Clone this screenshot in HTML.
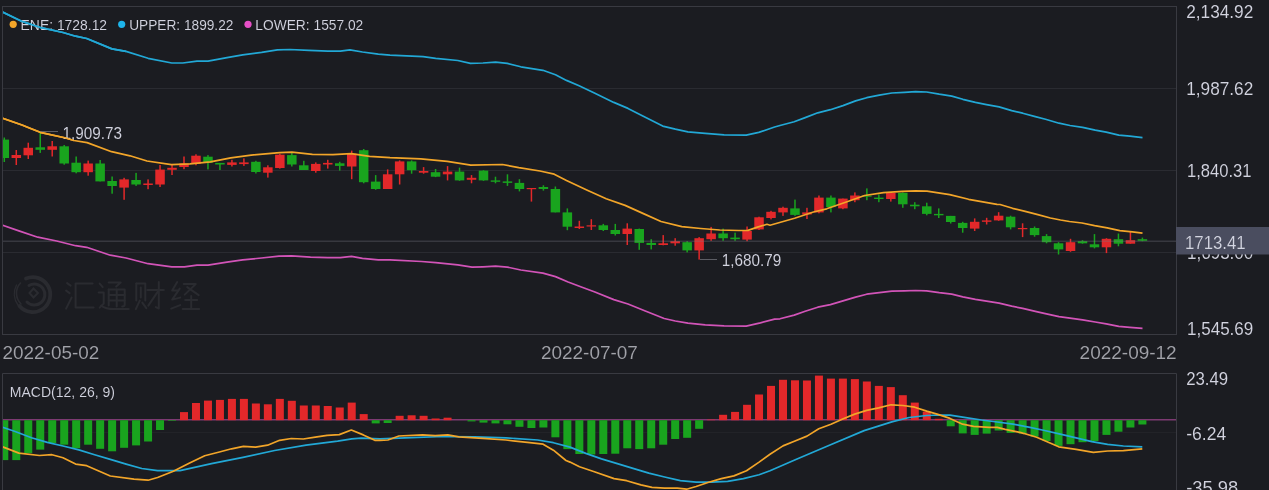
<!DOCTYPE html>
<html><head><meta charset="utf-8"><style>
html,body{margin:0;padding:0;background:#1b1c21;overflow:hidden;}
svg{display:block;}
text{font-family:"Liberation Sans",sans-serif;will-change:transform;}
</style></head><body>
<svg width="1269" height="490" viewBox="0 0 1269 490" font-family="Liberation Sans, sans-serif">
<rect width="1269" height="490" fill="#1b1c21"/>
<line x1="2" y1="88.5" x2="1176" y2="88.5" stroke="#2a2b31" stroke-width="1"/>
<line x1="2" y1="170.5" x2="1176" y2="170.5" stroke="#2a2b31" stroke-width="1"/>
<line x1="2" y1="252.5" x2="1176" y2="252.5" stroke="#2a2b31" stroke-width="1"/>
<line x1="2" y1="432.5" x2="1176" y2="432.5" stroke="#222328" stroke-width="1"/>
<rect x="2.5" y="6.5" width="1174" height="328" fill="none" stroke="#393a41" stroke-width="1"/>
<path d="M2.5 495 V373.5 H1176.5 V495" fill="none" stroke="#393a41" stroke-width="1"/>
<g fill="none" stroke="#2a2b30" stroke-linecap="round"><path d="M26 278.5 A17.5 17.5 0 1 1 19.5 306" stroke-width="3.8"/><path d="M20.5 283 A15 15 0 0 0 21 304" stroke-width="1.6"/><path d="M16.5 285 A19 19 0 0 0 18 305" stroke-width="1.4"/><path d="M29 285.5 A10.5 10.5 0 1 1 27 302" stroke-width="3"/><path d="M33.5 288.5 L38 293 L33.5 297.5 L29.5 293 Z" stroke-width="2"/></g><g transform="translate(64.6,280.6)" fill="none" stroke="#2a2b30" stroke-width="2" stroke-linecap="round" stroke-linejoin="round"><path d="M2.5 2.5 L6 5"/><path d="M1.5 10 L5 12.5"/><path d="M1.5 28 L7 17"/><path d="M28 3 H11 V27 H29"/></g><g transform="translate(97.7,280.6)" fill="none" stroke="#2a2b30" stroke-width="2" stroke-linecap="round" stroke-linejoin="round"><path d="M2 3 L5 6.5"/><path d="M1 12 H6 V23 L2 27"/><path d="M3.5 25 Q8 28.5 16 28.5 H31"/><path d="M11 2 H23 L18.5 6"/><path d="M11 9 H27 V24 Q27 26 24.5 26"/><path d="M11 9 V25"/><path d="M11 14.5 H27"/><path d="M11 20 H27"/><path d="M19 9 V26"/></g><g transform="translate(134.3,280.6)" fill="none" stroke="#2a2b30" stroke-width="2" stroke-linecap="round" stroke-linejoin="round"><path d="M2 3 V20"/><path d="M2 3 H11 V20"/><path d="M6.5 7 V17"/><path d="M5.5 20 L1.5 28.5"/><path d="M8 22 L12 27.5"/><path d="M13 9.5 H29.5"/><path d="M24.5 1.5 V28 L21.5 26.5"/><path d="M23.5 11 L14 25"/></g><g transform="translate(169.7,280.6)" fill="none" stroke="#2a2b30" stroke-width="2" stroke-linecap="round" stroke-linejoin="round"><path d="M7.5 1.5 L2.5 10 H8.5"/><path d="M10 8 L2.5 19 L10.5 17"/><path d="M1.5 28 L10.5 24.5"/><path d="M14 3.5 H26 L15 14"/><path d="M17.5 6.5 L29 14.5"/><path d="M15.5 19.5 H27.5"/><path d="M21.5 15.5 V28"/><path d="M13 28.5 H29.5"/></g>
<defs><clipPath id="cm"><rect x="3" y="7" width="1173" height="327"/></clipPath><clipPath id="cd"><rect x="3" y="374" width="1173" height="120"/></clipPath></defs>
<g clip-path="url(#cm)">
<rect x="3.55" y="137.5" width="1.5" height="24.5" fill="#19a41e"/>
<rect x="-0.45" y="139.6" width="9.5" height="18.4" fill="#19a41e"/>
<rect x="15.53" y="150.0" width="1.5" height="15.0" fill="#e3282a"/>
<rect x="11.53" y="155.0" width="9.5" height="3.0" fill="#e3282a"/>
<rect x="27.51" y="142.7" width="1.5" height="16.3" fill="#e3282a"/>
<rect x="23.51" y="147.8" width="9.5" height="7.5" fill="#e3282a"/>
<rect x="39.49" y="132.4" width="1.5" height="20.5" fill="#19a41e"/>
<rect x="35.49" y="147.3" width="9.5" height="2.5" fill="#19a41e"/>
<rect x="51.47" y="141.0" width="1.5" height="15.5" fill="#e3282a"/>
<rect x="47.47" y="146.3" width="9.5" height="3.5" fill="#e3282a"/>
<rect x="63.45" y="145.0" width="1.5" height="19.7" fill="#19a41e"/>
<rect x="59.45" y="146.3" width="9.5" height="17.2" fill="#19a41e"/>
<rect x="75.43" y="156.5" width="1.5" height="16.8" fill="#19a41e"/>
<rect x="71.43" y="162.7" width="9.5" height="9.5" fill="#19a41e"/>
<rect x="87.41" y="160.6" width="1.5" height="15.1" fill="#e3282a"/>
<rect x="83.41" y="163.5" width="9.5" height="8.7" fill="#e3282a"/>
<rect x="99.39" y="160.0" width="1.5" height="21.4" fill="#19a41e"/>
<rect x="95.39" y="163.5" width="9.5" height="17.9" fill="#19a41e"/>
<rect x="111.37" y="176.5" width="1.5" height="17.2" fill="#19a41e"/>
<rect x="107.37" y="181.0" width="9.5" height="5.0" fill="#19a41e"/>
<rect x="123.35" y="177.8" width="1.5" height="22.0" fill="#e3282a"/>
<rect x="119.35" y="179.4" width="9.5" height="8.2" fill="#e3282a"/>
<rect x="135.33" y="172.9" width="1.5" height="13.0" fill="#19a41e"/>
<rect x="131.33" y="180.0" width="9.5" height="4.5" fill="#19a41e"/>
<rect x="147.31" y="179.4" width="1.5" height="9.8" fill="#e3282a"/>
<rect x="143.31" y="183.5" width="9.5" height="1.5" fill="#e3282a"/>
<rect x="159.29" y="165.0" width="1.5" height="22.0" fill="#e3282a"/>
<rect x="155.29" y="169.6" width="9.5" height="14.9" fill="#e3282a"/>
<rect x="171.27" y="164.0" width="1.5" height="11.0" fill="#e3282a"/>
<rect x="167.27" y="167.8" width="9.5" height="2.0" fill="#e3282a"/>
<rect x="183.25" y="156.5" width="1.5" height="12.7" fill="#e3282a"/>
<rect x="179.25" y="163.5" width="9.5" height="3.5" fill="#e3282a"/>
<rect x="195.23" y="154.3" width="1.5" height="11.0" fill="#e3282a"/>
<rect x="191.23" y="155.7" width="9.5" height="8.2" fill="#e3282a"/>
<rect x="207.21" y="155.1" width="1.5" height="14.3" fill="#19a41e"/>
<rect x="203.21" y="156.7" width="9.5" height="6.2" fill="#19a41e"/>
<rect x="219.19" y="162.9" width="1.5" height="7.1" fill="#19a41e"/>
<rect x="215.19" y="162.9" width="9.5" height="1.6" fill="#19a41e"/>
<rect x="231.17" y="159.8" width="1.5" height="6.7" fill="#e3282a"/>
<rect x="227.17" y="162.4" width="9.5" height="2.5" fill="#e3282a"/>
<rect x="243.15" y="158.4" width="1.5" height="7.5" fill="#e3282a"/>
<rect x="239.15" y="162.4" width="9.5" height="1.7" fill="#e3282a"/>
<rect x="255.13" y="160.8" width="1.5" height="12.7" fill="#19a41e"/>
<rect x="251.13" y="161.8" width="9.5" height="10.2" fill="#19a41e"/>
<rect x="267.11" y="165.3" width="1.5" height="12.3" fill="#e3282a"/>
<rect x="263.11" y="167.3" width="9.5" height="5.4" fill="#e3282a"/>
<rect x="279.09" y="153.7" width="1.5" height="14.9" fill="#e3282a"/>
<rect x="275.09" y="154.7" width="9.5" height="13.3" fill="#e3282a"/>
<rect x="291.07" y="152.2" width="1.5" height="14.3" fill="#19a41e"/>
<rect x="287.07" y="155.1" width="9.5" height="9.4" fill="#19a41e"/>
<rect x="303.05" y="160.8" width="1.5" height="9.2" fill="#19a41e"/>
<rect x="299.05" y="165.3" width="9.5" height="4.7" fill="#19a41e"/>
<rect x="315.03" y="162.4" width="1.5" height="10.3" fill="#e3282a"/>
<rect x="311.03" y="163.9" width="9.5" height="7.1" fill="#e3282a"/>
<rect x="327.01" y="159.8" width="1.5" height="8.8" fill="#e3282a"/>
<rect x="323.01" y="162.9" width="9.5" height="1.6" fill="#e3282a"/>
<rect x="338.99" y="161.8" width="1.5" height="8.8" fill="#19a41e"/>
<rect x="334.99" y="163.3" width="9.5" height="2.6" fill="#19a41e"/>
<rect x="350.97" y="150.6" width="1.5" height="28.6" fill="#e3282a"/>
<rect x="346.97" y="153.7" width="9.5" height="12.8" fill="#e3282a"/>
<rect x="362.95" y="149.0" width="1.5" height="34.3" fill="#19a41e"/>
<rect x="358.95" y="150.2" width="9.5" height="32.0" fill="#19a41e"/>
<rect x="374.93" y="175.1" width="1.5" height="14.7" fill="#19a41e"/>
<rect x="370.93" y="181.6" width="9.5" height="7.4" fill="#19a41e"/>
<rect x="386.91" y="169.4" width="1.5" height="19.6" fill="#e3282a"/>
<rect x="382.91" y="174.3" width="9.5" height="14.7" fill="#e3282a"/>
<rect x="398.89" y="160.4" width="1.5" height="24.1" fill="#e3282a"/>
<rect x="394.89" y="161.4" width="9.5" height="12.9" fill="#e3282a"/>
<rect x="410.87" y="160.4" width="1.5" height="13.3" fill="#19a41e"/>
<rect x="406.87" y="161.4" width="9.5" height="8.8" fill="#19a41e"/>
<rect x="422.85" y="167.1" width="1.5" height="6.6" fill="#e3282a"/>
<rect x="418.85" y="171.0" width="9.5" height="1.7" fill="#e3282a"/>
<rect x="434.83" y="169.0" width="1.5" height="8.1" fill="#19a41e"/>
<rect x="430.83" y="172.2" width="9.5" height="4.5" fill="#19a41e"/>
<rect x="446.81" y="166.1" width="1.5" height="14.3" fill="#e3282a"/>
<rect x="442.81" y="171.6" width="9.5" height="2.7" fill="#e3282a"/>
<rect x="458.79" y="167.6" width="1.5" height="13.2" fill="#19a41e"/>
<rect x="454.79" y="171.6" width="9.5" height="8.8" fill="#19a41e"/>
<rect x="470.77" y="175.1" width="1.5" height="8.2" fill="#e3282a"/>
<rect x="466.77" y="177.8" width="9.5" height="2.0" fill="#e3282a"/>
<rect x="482.75" y="170.2" width="1.5" height="10.6" fill="#19a41e"/>
<rect x="478.75" y="170.6" width="9.5" height="9.8" fill="#19a41e"/>
<rect x="494.73" y="176.7" width="1.5" height="6.6" fill="#19a41e"/>
<rect x="490.73" y="180.4" width="9.5" height="1.4" fill="#19a41e"/>
<rect x="506.71" y="174.3" width="1.5" height="11.6" fill="#19a41e"/>
<rect x="502.71" y="181.4" width="9.5" height="1.5" fill="#19a41e"/>
<rect x="518.69" y="179.2" width="1.5" height="12.2" fill="#19a41e"/>
<rect x="514.69" y="182.9" width="9.5" height="6.1" fill="#19a41e"/>
<rect x="530.67" y="188.0" width="1.5" height="13.6" fill="#e3282a"/>
<rect x="526.67" y="188.0" width="9.5" height="1.2" fill="#e3282a"/>
<rect x="542.65" y="185.3" width="1.5" height="5.3" fill="#19a41e"/>
<rect x="538.65" y="187.0" width="9.5" height="2.0" fill="#19a41e"/>
<rect x="554.63" y="186.5" width="1.5" height="25.9" fill="#19a41e"/>
<rect x="550.63" y="189.0" width="9.5" height="23.4" fill="#19a41e"/>
<rect x="566.61" y="208.4" width="1.5" height="21.8" fill="#19a41e"/>
<rect x="562.61" y="212.4" width="9.5" height="14.3" fill="#19a41e"/>
<rect x="578.59" y="220.8" width="1.5" height="8.2" fill="#e3282a"/>
<rect x="574.59" y="226.5" width="9.5" height="1.5" fill="#e3282a"/>
<rect x="590.57" y="219.2" width="1.5" height="10.8" fill="#e3282a"/>
<rect x="586.57" y="225.3" width="9.5" height="1.2" fill="#e3282a"/>
<rect x="602.55" y="223.9" width="1.5" height="7.1" fill="#19a41e"/>
<rect x="598.55" y="225.3" width="9.5" height="4.7" fill="#19a41e"/>
<rect x="614.53" y="223.9" width="1.5" height="11.6" fill="#19a41e"/>
<rect x="610.53" y="230.0" width="9.5" height="4.0" fill="#19a41e"/>
<rect x="626.51" y="223.3" width="1.5" height="21.7" fill="#e3282a"/>
<rect x="622.51" y="228.6" width="9.5" height="5.4" fill="#e3282a"/>
<rect x="638.49" y="228.6" width="1.5" height="21.2" fill="#19a41e"/>
<rect x="634.49" y="229.0" width="9.5" height="13.9" fill="#19a41e"/>
<rect x="650.47" y="239.2" width="1.5" height="10.2" fill="#19a41e"/>
<rect x="646.47" y="242.9" width="9.5" height="2.1" fill="#19a41e"/>
<rect x="662.45" y="235.1" width="1.5" height="10.2" fill="#e3282a"/>
<rect x="658.45" y="243.3" width="9.5" height="1.7" fill="#e3282a"/>
<rect x="674.43" y="238.2" width="1.5" height="7.5" fill="#e3282a"/>
<rect x="670.43" y="241.2" width="9.5" height="2.1" fill="#e3282a"/>
<rect x="686.41" y="241.2" width="1.5" height="11.2" fill="#19a41e"/>
<rect x="682.41" y="242.2" width="9.5" height="8.2" fill="#19a41e"/>
<rect x="698.39" y="237.1" width="1.5" height="22.5" fill="#e3282a"/>
<rect x="694.39" y="238.2" width="9.5" height="12.2" fill="#e3282a"/>
<rect x="710.37" y="226.9" width="1.5" height="13.9" fill="#e3282a"/>
<rect x="706.37" y="233.5" width="9.5" height="5.7" fill="#e3282a"/>
<rect x="722.35" y="228.6" width="1.5" height="12.2" fill="#19a41e"/>
<rect x="718.35" y="233.5" width="9.5" height="4.7" fill="#19a41e"/>
<rect x="734.33" y="232.7" width="1.5" height="8.1" fill="#19a41e"/>
<rect x="730.33" y="237.6" width="9.5" height="1.6" fill="#19a41e"/>
<rect x="746.31" y="226.5" width="1.5" height="14.7" fill="#e3282a"/>
<rect x="742.31" y="231.0" width="9.5" height="8.6" fill="#e3282a"/>
<rect x="758.29" y="216.7" width="1.5" height="13.3" fill="#e3282a"/>
<rect x="754.29" y="217.3" width="9.5" height="12.1" fill="#e3282a"/>
<rect x="770.27" y="210.8" width="1.5" height="8.6" fill="#e3282a"/>
<rect x="766.27" y="211.8" width="9.5" height="6.2" fill="#e3282a"/>
<rect x="782.25" y="206.7" width="1.5" height="9.2" fill="#e3282a"/>
<rect x="778.25" y="207.8" width="9.5" height="4.6" fill="#e3282a"/>
<rect x="794.23" y="199.6" width="1.5" height="16.3" fill="#19a41e"/>
<rect x="790.23" y="208.4" width="9.5" height="6.5" fill="#19a41e"/>
<rect x="806.21" y="207.8" width="1.5" height="11.2" fill="#e3282a"/>
<rect x="802.21" y="212.4" width="9.5" height="2.1" fill="#e3282a"/>
<rect x="818.19" y="195.5" width="1.5" height="17.8" fill="#e3282a"/>
<rect x="814.19" y="197.6" width="9.5" height="14.8" fill="#e3282a"/>
<rect x="830.17" y="195.5" width="1.5" height="16.9" fill="#19a41e"/>
<rect x="826.17" y="197.6" width="9.5" height="9.5" fill="#19a41e"/>
<rect x="842.15" y="198.6" width="1.5" height="10.6" fill="#e3282a"/>
<rect x="838.15" y="198.6" width="9.5" height="9.8" fill="#e3282a"/>
<rect x="854.13" y="192.4" width="1.5" height="9.8" fill="#e3282a"/>
<rect x="850.13" y="195.5" width="9.5" height="4.7" fill="#e3282a"/>
<rect x="866.11" y="188.4" width="1.5" height="11.8" fill="#19a41e"/>
<rect x="862.11" y="195.5" width="9.5" height="1.2" fill="#19a41e"/>
<rect x="878.09" y="194.5" width="1.5" height="7.7" fill="#19a41e"/>
<rect x="874.09" y="197.6" width="9.5" height="1.4" fill="#19a41e"/>
<rect x="890.07" y="192.4" width="1.5" height="9.2" fill="#e3282a"/>
<rect x="886.07" y="192.9" width="9.5" height="6.1" fill="#e3282a"/>
<rect x="902.05" y="192.4" width="1.5" height="15.4" fill="#19a41e"/>
<rect x="898.05" y="192.9" width="9.5" height="11.4" fill="#19a41e"/>
<rect x="914.03" y="202.2" width="1.5" height="7.0" fill="#19a41e"/>
<rect x="910.03" y="204.7" width="9.5" height="1.6" fill="#19a41e"/>
<rect x="926.01" y="202.7" width="1.5" height="12.6" fill="#19a41e"/>
<rect x="922.01" y="206.3" width="9.5" height="7.6" fill="#19a41e"/>
<rect x="937.99" y="208.4" width="1.5" height="9.6" fill="#19a41e"/>
<rect x="933.99" y="213.9" width="9.5" height="1.4" fill="#19a41e"/>
<rect x="949.97" y="215.9" width="1.5" height="7.6" fill="#19a41e"/>
<rect x="945.97" y="215.9" width="9.5" height="6.1" fill="#19a41e"/>
<rect x="961.95" y="221.8" width="1.5" height="10.9" fill="#19a41e"/>
<rect x="957.95" y="222.9" width="9.5" height="5.1" fill="#19a41e"/>
<rect x="973.93" y="218.4" width="1.5" height="12.6" fill="#e3282a"/>
<rect x="969.93" y="221.8" width="9.5" height="6.8" fill="#e3282a"/>
<rect x="985.91" y="217.8" width="1.5" height="6.7" fill="#e3282a"/>
<rect x="981.91" y="220.4" width="9.5" height="1.4" fill="#e3282a"/>
<rect x="997.89" y="212.2" width="1.5" height="8.6" fill="#e3282a"/>
<rect x="993.89" y="215.7" width="9.5" height="4.7" fill="#e3282a"/>
<rect x="1009.87" y="215.7" width="1.5" height="13.7" fill="#19a41e"/>
<rect x="1005.87" y="216.7" width="9.5" height="10.6" fill="#19a41e"/>
<rect x="1021.85" y="223.3" width="1.5" height="13.8" fill="#e3282a"/>
<rect x="1017.85" y="228.0" width="9.5" height="1.2" fill="#e3282a"/>
<rect x="1033.83" y="226.5" width="1.5" height="10.2" fill="#19a41e"/>
<rect x="1029.83" y="228.0" width="9.5" height="7.1" fill="#19a41e"/>
<rect x="1045.81" y="234.1" width="1.5" height="9.2" fill="#19a41e"/>
<rect x="1041.81" y="236.1" width="9.5" height="6.1" fill="#19a41e"/>
<rect x="1057.79" y="242.2" width="1.5" height="12.3" fill="#19a41e"/>
<rect x="1053.79" y="243.3" width="9.5" height="6.1" fill="#19a41e"/>
<rect x="1069.77" y="238.8" width="1.5" height="13.0" fill="#e3282a"/>
<rect x="1065.77" y="242.2" width="9.5" height="8.8" fill="#e3282a"/>
<rect x="1081.75" y="240.2" width="1.5" height="3.5" fill="#19a41e"/>
<rect x="1077.75" y="241.2" width="9.5" height="2.1" fill="#19a41e"/>
<rect x="1093.73" y="234.1" width="1.5" height="14.3" fill="#19a41e"/>
<rect x="1089.73" y="244.3" width="9.5" height="3.0" fill="#19a41e"/>
<rect x="1105.71" y="238.2" width="1.5" height="14.9" fill="#e3282a"/>
<rect x="1101.71" y="238.8" width="9.5" height="8.5" fill="#e3282a"/>
<rect x="1117.69" y="233.5" width="1.5" height="12.8" fill="#19a41e"/>
<rect x="1113.69" y="239.2" width="9.5" height="4.5" fill="#19a41e"/>
<rect x="1129.67" y="232.0" width="1.5" height="11.7" fill="#e3282a"/>
<rect x="1125.67" y="240.2" width="9.5" height="3.5" fill="#e3282a"/>
<rect x="1141.65" y="237.6" width="1.5" height="3.6" fill="#19a41e"/>
<rect x="1137.65" y="239.2" width="9.5" height="1.6" fill="#19a41e"/>
<line x1="3" y1="241.3" x2="1176" y2="241.3" stroke="rgb(122,124,134)" stroke-opacity="0.3" stroke-width="1.5"/>
<polyline points="2.5,12.0 22.1,21.4 41.0,27.7 63.0,32.5 75.6,36.2 86.7,38.5 111.9,48.9 126.0,51.4 148.1,58.3 171.8,63.0 182.8,63.0 197.0,61.2 208.0,61.2 227.0,57.7 242.7,54.8 261.6,52.3 277.4,49.8 290.0,49.5 308.9,50.4 327.8,51.1 340.4,51.1 349.9,49.8 362.5,52.0 378.3,54.2 390.0,55.2 423.1,56.7 435.7,58.3 457.8,60.5 470.4,63.4 483.0,63.0 495.6,62.1 507.3,63.4 520.8,66.8 542.9,70.3 555.5,74.7 566.5,80.4 579.1,85.7 594.9,93.3 613.8,102.4 628.0,108.4 645.3,117.3 662.7,126.1 675.3,129.2 687.9,131.8 705.2,133.3 724.1,134.9 746.2,135.2 758.8,132.4 774.6,127.0 780.0,125.5 794.2,121.7 805.2,117.6 817.8,112.8 830.4,109.7 843.0,105.6 855.6,100.9 866.7,97.7 879.3,95.2 891.9,93.0 904.5,92.4 915.5,91.7 926.6,92.0 939.2,94.2 951.8,96.1 962.8,99.3 975.4,102.4 986.5,104.6 999.1,106.9 1011.7,110.6 1022.7,113.2 1035.3,116.6 1046.4,119.5 1059.0,123.2 1070.0,125.5 1082.6,127.3 1095.2,130.2 1106.2,132.1 1118.8,135.2 1129.9,136.2 1142.5,137.7" fill="none" stroke="#22a8d6" stroke-width="1.7" stroke-linejoin="round"/>
<polyline points="2.5,225.2 18.9,230.9 37.8,237.2 56.7,241.0 75.6,245.7 86.7,247.3 110.3,255.2 126.1,258.0 148.1,263.7 171.8,266.8 184.4,266.8 197.0,265.2 208.0,265.2 227.0,262.1 242.7,259.9 261.6,258.0 279.0,256.1 291.6,255.8 310.5,257.1 327.8,257.7 340.4,257.7 351.5,256.4 362.5,258.3 378.3,259.9 390.0,259.9 421.5,261.5 435.7,262.7 457.8,264.9 472.0,267.1 483.0,266.8 495.6,266.2 507.3,267.1 520.8,270.0 542.9,273.1 555.5,276.6 568.1,282.0 580.7,286.7 594.9,292.0 613.8,299.6 628.0,304.0 645.3,311.0 664.2,318.5 675.3,321.0 687.9,323.2 705.2,324.8 724.1,325.8 746.2,326.1 760.4,322.9 774.6,319.1 780.0,318.8 794.2,315.1 805.2,311.3 817.8,307.2 830.4,304.6 843.0,300.9 855.6,297.1 866.7,294.2 879.3,292.7 891.9,291.1 904.5,290.8 915.5,290.5 926.6,290.8 939.2,292.7 951.8,294.2 962.8,296.8 975.4,299.3 986.5,301.2 999.1,303.1 1011.7,306.2 1022.7,308.4 1035.3,311.3 1046.4,313.8 1059.0,316.6 1070.0,318.2 1082.6,319.8 1095.2,322.0 1106.2,323.9 1118.8,326.4 1129.9,327.3 1142.5,328.3" fill="none" stroke="#d254b8" stroke-width="1.7" stroke-linejoin="round"/>
<polyline points="2.5,118.2 22.0,125.0 30.0,128.3 40.2,132.3 65.7,138.0 73.9,140.5 87.1,142.6 111.6,151.7 130.0,155.8 147.0,161.0 171.4,164.7 190.0,163.9 210.4,161.8 230.8,157.8 251.2,155.1 279.8,152.7 292.0,152.2 312.4,154.3 332.9,154.7 351.2,153.7 369.6,156.3 390.0,157.6 420.8,158.8 447.3,161.4 470.8,165.1 502.4,164.5 518.8,167.6 540.0,171.0 554.2,174.2 566.5,180.4 587.3,190.3 606.2,198.8 625.1,205.4 644.0,213.9 661.0,221.5 681.8,226.6 700.8,228.5 719.7,230.0 738.6,230.5 748.0,230.4 757.5,227.1 767.0,224.3 770.0,225.2 794.6,218.2 813.5,212.0 826.7,208.8 845.6,202.2 864.6,195.5 883.5,192.7 902.4,191.4 915.6,190.8 927.0,191.2 949.7,194.6 968.6,199.3 997.0,204.4 1000.0,204.5 1012.6,208.3 1025.2,211.4 1037.8,214.6 1050.4,218.0 1060.5,220.0 1069.4,221.5 1082.0,223.0 1094.6,225.6 1107.2,227.8 1119.8,230.6 1132.4,231.9 1142.5,233.1" fill="none" stroke="#f2a529" stroke-width="1.7" stroke-linejoin="round"/>
</g>
<line x1="40" y1="131.5" x2="58" y2="131.5" stroke="#5c5d64" stroke-width="1"/>
<text x="62.5" y="138.7" font-size="17" fill="#d3d4e0" text-anchor="start" stroke="#1b1c21" stroke-width="0.08" textLength="59.5" lengthAdjust="spacingAndGlyphs">1,909.73</text>
<line x1="700" y1="259.5" x2="717" y2="259.5" stroke="#5c5d64" stroke-width="1"/>
<text x="721.8" y="266.2" font-size="17" fill="#d3d4e0" text-anchor="start" stroke="#1b1c21" stroke-width="0.08" textLength="59.5" lengthAdjust="spacingAndGlyphs">1,680.79</text>
<circle cx="13.2" cy="24.3" r="3.6" fill="#f2a529"/>
<text x="20.6" y="29.9" font-size="14.6" fill="#d3d4e0" text-anchor="start" stroke="#1b1c21" stroke-width="0.08" textLength="86.5" lengthAdjust="spacingAndGlyphs">ENE: 1728.12</text>
<circle cx="121.7" cy="24.3" r="3.6" fill="#1db4ea"/>
<text x="129.2" y="29.9" font-size="14.6" fill="#d3d4e0" text-anchor="start" stroke="#1b1c21" stroke-width="0.08" textLength="104.2" lengthAdjust="spacingAndGlyphs">UPPER: 1899.22</text>
<circle cx="248" cy="24.3" r="3.6" fill="#e64fc6"/>
<text x="255.3" y="29.9" font-size="14.6" fill="#d3d4e0" text-anchor="start" stroke="#1b1c21" stroke-width="0.08" textLength="108" lengthAdjust="spacingAndGlyphs">LOWER: 1557.02</text>
<polyline points="2.5,12.0 22.1,21.4 41.0,27.7 63.0,32.5 75.6,36.2 86.7,38.5 111.9,48.9 126.0,51.4" fill="none" stroke="#22a8d6" stroke-width="1.7" stroke-linejoin="round" clip-path="url(#cm)"/>
<polyline points="2.5,118.2 22.0,125.0 30.0,128.3 40.2,132.3 65.7,138.0 73.9,140.5" fill="none" stroke="#f2a529" stroke-width="1.7" stroke-linejoin="round" clip-path="url(#cm)"/>
<text x="1186.2" y="18.4" font-size="19" fill="#d3d4e0" text-anchor="start" stroke="#1b1c21" stroke-width="0.08" textLength="67.1" lengthAdjust="spacingAndGlyphs">2,134.92</text>
<text x="1186.2" y="95.0" font-size="19" fill="#d3d4e0" text-anchor="start" stroke="#1b1c21" stroke-width="0.08" textLength="67.1" lengthAdjust="spacingAndGlyphs">1,987.62</text>
<text x="1187" y="177.0" font-size="19" fill="#d3d4e0" text-anchor="start" stroke="#1b1c21" stroke-width="0.08" textLength="64.5" lengthAdjust="spacingAndGlyphs">1,840.31</text>
<text x="1187" y="258.9" font-size="19" fill="#d3d4e0" text-anchor="start" stroke="#1b1c21" stroke-width="0.08" textLength="66.3" lengthAdjust="spacingAndGlyphs">1,693.00</text>
<text x="1187" y="335.1" font-size="19" fill="#d3d4e0" text-anchor="start" stroke="#1b1c21" stroke-width="0.08" textLength="66.3" lengthAdjust="spacingAndGlyphs">1,545.69</text>
<rect x="1176" y="227" width="93" height="27.5" fill="#4a4d5f"/>
<text x="1185" y="248.7" font-size="18" fill="#d3d5e2" text-anchor="start" stroke="#1b1c21" stroke-width="0.08" textLength="60.7" lengthAdjust="spacingAndGlyphs">1713.41</text>
<text x="2.6" y="359" font-size="19" fill="#a2a3aa" text-anchor="start" stroke="#1b1c21" stroke-width="0.08" textLength="96.6" lengthAdjust="spacingAndGlyphs">2022-05-02</text>
<text x="541" y="359" font-size="19" fill="#a2a3aa" text-anchor="start" stroke="#1b1c21" stroke-width="0.08" textLength="96.8" lengthAdjust="spacingAndGlyphs">2022-07-07</text>
<text x="1079.6" y="359" font-size="19" fill="#a2a3aa" text-anchor="start" stroke="#1b1c21" stroke-width="0.08" textLength="97.1" lengthAdjust="spacingAndGlyphs">2022-09-12</text>
<text x="9.8" y="396.9" font-size="14.2" fill="#d3d4e0" text-anchor="start" stroke="#1b1c21" stroke-width="0.08" textLength="105.2" lengthAdjust="spacingAndGlyphs">MACD(12, 26, 9)</text>
<g clip-path="url(#cd)">
<line x1="3" y1="419.8" x2="1176" y2="419.8" stroke="#7d3a72" stroke-width="1.6"/>
<rect x="0.30" y="420.2" width="8" height="39.9" fill="#19a41e"/>
<rect x="12.28" y="420.2" width="8" height="39.9" fill="#19a41e"/>
<rect x="24.26" y="420.2" width="8" height="33.0" fill="#19a41e"/>
<rect x="36.24" y="420.2" width="8" height="29.4" fill="#19a41e"/>
<rect x="48.22" y="420.2" width="8" height="22.8" fill="#19a41e"/>
<rect x="60.20" y="420.2" width="8" height="24.5" fill="#19a41e"/>
<rect x="72.18" y="420.2" width="8" height="28.1" fill="#19a41e"/>
<rect x="84.16" y="420.2" width="8" height="24.5" fill="#19a41e"/>
<rect x="96.14" y="420.2" width="8" height="28.6" fill="#19a41e"/>
<rect x="108.12" y="420.2" width="8" height="31.1" fill="#19a41e"/>
<rect x="120.10" y="420.2" width="8" height="27.6" fill="#19a41e"/>
<rect x="132.08" y="420.2" width="8" height="25.2" fill="#19a41e"/>
<rect x="144.06" y="420.2" width="8" height="21.3" fill="#19a41e"/>
<rect x="156.04" y="420.2" width="8" height="9.8" fill="#19a41e"/>
<rect x="168.02" y="420.2" width="8" height="0.6" fill="#19a41e"/>
<rect x="180.00" y="412.1" width="8" height="8.1" fill="#e3282a"/>
<rect x="191.98" y="403.0" width="8" height="17.2" fill="#e3282a"/>
<rect x="203.96" y="400.6" width="8" height="19.6" fill="#e3282a"/>
<rect x="215.94" y="399.9" width="8" height="20.3" fill="#e3282a"/>
<rect x="227.92" y="398.9" width="8" height="21.3" fill="#e3282a"/>
<rect x="239.90" y="398.9" width="8" height="21.3" fill="#e3282a"/>
<rect x="251.88" y="403.5" width="8" height="16.7" fill="#e3282a"/>
<rect x="263.86" y="404.3" width="8" height="15.9" fill="#e3282a"/>
<rect x="275.84" y="398.9" width="8" height="21.3" fill="#e3282a"/>
<rect x="287.82" y="400.8" width="8" height="19.4" fill="#e3282a"/>
<rect x="299.80" y="405.5" width="8" height="14.7" fill="#e3282a"/>
<rect x="311.78" y="405.5" width="8" height="14.7" fill="#e3282a"/>
<rect x="323.76" y="406.0" width="8" height="14.2" fill="#e3282a"/>
<rect x="335.74" y="407.5" width="8" height="12.7" fill="#e3282a"/>
<rect x="347.72" y="402.6" width="8" height="17.6" fill="#e3282a"/>
<rect x="359.70" y="414.1" width="8" height="6.1" fill="#e3282a"/>
<rect x="371.68" y="420.2" width="8" height="3.2" fill="#19a41e"/>
<rect x="383.66" y="420.2" width="8" height="2.8" fill="#19a41e"/>
<rect x="395.64" y="415.8" width="8" height="4.4" fill="#e3282a"/>
<rect x="407.62" y="415.3" width="8" height="4.9" fill="#e3282a"/>
<rect x="419.60" y="415.8" width="8" height="4.4" fill="#e3282a"/>
<rect x="431.58" y="418.5" width="8" height="1.7" fill="#e3282a"/>
<rect x="443.56" y="417.7" width="8" height="2.5" fill="#e3282a"/>
<rect x="467.52" y="420.2" width="8" height="1.2" fill="#19a41e"/>
<rect x="479.50" y="420.2" width="8" height="2.4" fill="#19a41e"/>
<rect x="491.48" y="420.2" width="8" height="3.2" fill="#19a41e"/>
<rect x="503.46" y="420.2" width="8" height="4.1" fill="#19a41e"/>
<rect x="515.44" y="420.2" width="8" height="6.6" fill="#19a41e"/>
<rect x="527.42" y="420.2" width="8" height="7.8" fill="#19a41e"/>
<rect x="539.40" y="420.2" width="8" height="7.3" fill="#19a41e"/>
<rect x="551.38" y="420.2" width="8" height="17.1" fill="#19a41e"/>
<rect x="563.36" y="420.2" width="8" height="28.9" fill="#19a41e"/>
<rect x="575.34" y="420.2" width="8" height="33.8" fill="#19a41e"/>
<rect x="587.32" y="420.2" width="8" height="34.3" fill="#19a41e"/>
<rect x="599.30" y="420.2" width="8" height="33.8" fill="#19a41e"/>
<rect x="611.28" y="420.2" width="8" height="33.5" fill="#19a41e"/>
<rect x="623.26" y="420.2" width="8" height="28.1" fill="#19a41e"/>
<rect x="635.24" y="420.2" width="8" height="28.9" fill="#19a41e"/>
<rect x="647.22" y="420.2" width="8" height="28.1" fill="#19a41e"/>
<rect x="659.20" y="420.2" width="8" height="24.5" fill="#19a41e"/>
<rect x="671.18" y="420.2" width="8" height="18.8" fill="#19a41e"/>
<rect x="683.16" y="420.2" width="8" height="17.6" fill="#19a41e"/>
<rect x="695.14" y="420.2" width="8" height="8.6" fill="#19a41e"/>
<rect x="707.12" y="419.6" width="8" height="0.6" fill="#e3282a"/>
<rect x="719.10" y="414.8" width="8" height="5.4" fill="#e3282a"/>
<rect x="731.08" y="411.9" width="8" height="8.3" fill="#e3282a"/>
<rect x="743.06" y="404.8" width="8" height="15.4" fill="#e3282a"/>
<rect x="755.04" y="394.5" width="8" height="25.7" fill="#e3282a"/>
<rect x="767.02" y="385.9" width="8" height="34.3" fill="#e3282a"/>
<rect x="779.00" y="379.8" width="8" height="40.4" fill="#e3282a"/>
<rect x="790.98" y="380.3" width="8" height="39.9" fill="#e3282a"/>
<rect x="802.96" y="380.5" width="8" height="39.7" fill="#e3282a"/>
<rect x="814.94" y="375.6" width="8" height="44.6" fill="#e3282a"/>
<rect x="826.92" y="378.6" width="8" height="41.6" fill="#e3282a"/>
<rect x="838.90" y="378.6" width="8" height="41.6" fill="#e3282a"/>
<rect x="850.88" y="379.1" width="8" height="41.1" fill="#e3282a"/>
<rect x="862.86" y="381.5" width="8" height="38.7" fill="#e3282a"/>
<rect x="874.84" y="385.9" width="8" height="34.3" fill="#e3282a"/>
<rect x="886.82" y="387.1" width="8" height="33.1" fill="#e3282a"/>
<rect x="898.80" y="395.2" width="8" height="25.0" fill="#e3282a"/>
<rect x="910.78" y="402.6" width="8" height="17.6" fill="#e3282a"/>
<rect x="922.76" y="411.6" width="8" height="8.6" fill="#e3282a"/>
<rect x="934.74" y="418.8" width="8" height="1.4" fill="#e3282a"/>
<rect x="946.72" y="420.2" width="8" height="6.1" fill="#19a41e"/>
<rect x="958.70" y="420.2" width="8" height="13.2" fill="#19a41e"/>
<rect x="970.68" y="420.2" width="8" height="14.7" fill="#19a41e"/>
<rect x="982.66" y="420.2" width="8" height="13.4" fill="#19a41e"/>
<rect x="994.64" y="420.2" width="8" height="10.3" fill="#19a41e"/>
<rect x="1006.62" y="420.2" width="8" height="12.7" fill="#19a41e"/>
<rect x="1018.60" y="420.2" width="8" height="13.4" fill="#19a41e"/>
<rect x="1030.58" y="420.2" width="8" height="16.4" fill="#19a41e"/>
<rect x="1042.56" y="420.2" width="8" height="20.8" fill="#19a41e"/>
<rect x="1054.54" y="420.2" width="8" height="25.7" fill="#19a41e"/>
<rect x="1066.52" y="420.2" width="8" height="24.0" fill="#19a41e"/>
<rect x="1078.50" y="420.2" width="8" height="22.0" fill="#19a41e"/>
<rect x="1090.48" y="420.2" width="8" height="20.8" fill="#19a41e"/>
<rect x="1102.46" y="420.2" width="8" height="14.7" fill="#19a41e"/>
<rect x="1114.44" y="420.2" width="8" height="11.5" fill="#19a41e"/>
<rect x="1126.42" y="420.2" width="8" height="7.3" fill="#19a41e"/>
<rect x="1138.40" y="420.2" width="8" height="4.3" fill="#19a41e"/>
<polyline points="2.4,427.1 15.8,431.8 31.5,437.7 47.3,442.4 63.0,446.0 78.8,449.9 94.6,454.7 110.3,459.4 126.1,464.1 141.8,468.5 157.6,470.7 173.4,470.7 180.0,470.6 211.5,463.6 243.0,457.3 274.6,450.5 306.1,445.2 337.6,441.1 351.8,438.9 361.2,438.1 380.0,438.9 411.5,437.6 443.0,436.5 474.6,436.8 506.0,437.9 537.6,440.0 553.4,442.7 570.0,447.1 585.8,453.4 601.5,458.9 617.3,463.6 633.0,468.4 648.8,473.1 664.6,477.0 680.3,480.7 696.1,482.2 711.8,482.2 727.6,481.3 743.4,478.6 759.1,474.7 770.0,470.7 794.7,460.0 829.4,445.3 864.1,430.6 891.8,421.9 909.2,417.5 926.5,415.5 942.1,415.0 950.0,415.2 965.8,417.6 981.5,420.0 997.3,422.0 1013.0,424.2 1028.8,427.1 1044.6,430.5 1060.3,434.2 1076.1,437.8 1091.8,441.6 1107.6,444.4 1123.4,446.0 1142.3,446.8" fill="none" stroke="#22a8d6" stroke-width="1.7" stroke-linejoin="round"/>
<polyline points="2.4,446.8 18.9,453.1 39.4,455.5 52.0,454.7 63.0,457.8 75.6,464.1 86.7,465.7 110.3,476.0 134.0,479.1 148.1,480.2 157.6,477.5 173.4,471.2 189.1,463.3 204.7,455.7 219.4,452.0 231.6,448.8 243.4,446.4 255.6,447.1 267.6,445.2 279.6,440.3 291.3,438.5 303.3,439.0 315.3,437.1 327.1,435.4 339.3,434.6 351.3,430.0 363.3,434.9 374.8,440.3 380.0,440.4 387.9,440.0 398.9,436.0 422.6,434.8 435.2,435.7 447.8,434.9 458.8,436.8 482.8,438.4 506.0,440.0 529.7,442.7 543.1,444.2 553.4,450.2 566.0,460.5 570.0,462.1 579.5,466.8 593.6,471.5 614.1,478.6 626.7,480.7 640.9,484.9 652.0,487.3 664.6,488.1 677.2,488.1 686.6,489.2 696.1,486.5 708.7,482.2 721.3,478.6 733.9,475.9 746.5,470.7 759.1,462.1 770.0,454.2 783.0,445.9 795.0,441.0 807.0,436.1 818.8,428.8 831.0,424.3 842.7,419.0 854.7,414.1 866.7,410.4 878.7,407.9 891.0,404.8 903.0,405.5 914.7,407.2 926.7,411.1 938.7,414.6 950.0,418.4 962.6,424.2 973.6,426.3 989.4,427.4 997.3,427.4 1005.2,429.4 1020.9,432.6 1036.7,437.3 1047.7,442.0 1058.7,446.8 1076.1,449.4 1093.4,452.3 1107.6,451.0 1123.4,450.7 1142.3,448.8" fill="none" stroke="#f2a529" stroke-width="1.7" stroke-linejoin="round"/>
</g>
<text x="1186.2" y="385.2" font-size="19" fill="#d3d4e0" text-anchor="start" stroke="#1b1c21" stroke-width="0.08" textLength="42" lengthAdjust="spacingAndGlyphs">23.49</text>
<text x="1186.2" y="439.6" font-size="19" fill="#d3d4e0" text-anchor="start" stroke="#1b1c21" stroke-width="0.08" textLength="40" lengthAdjust="spacingAndGlyphs">-6.24</text>
<text x="1186.2" y="494.2" font-size="19" fill="#d3d4e0" text-anchor="start" stroke="#1b1c21" stroke-width="0.08" textLength="52" lengthAdjust="spacingAndGlyphs">-35.98</text>
</svg>
</body></html>
